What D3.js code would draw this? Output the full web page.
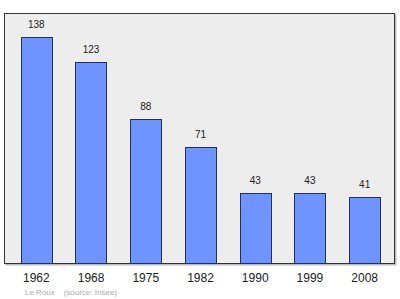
<!DOCTYPE html>
<html>
<head>
<meta charset="utf-8">
<script src="https://cdn.jsdelivr.net/npm/d3@7"></script>
<style>
  body { margin: 0; background: #fff; }
  svg { display: block; font-family: "Liberation Sans", Arial, sans-serif; }
</style>
</head>
<body>
<svg id="chart" width="400" height="299"></svg>
<script>
const years = ['1962', '1968', '1975', '1982', '1990', '1999', '2008'];
const population = [138, 123, 88, 71, 43, 43, 41];

const frame = { left: 4, top: 13, right: 395, bottom: 264 };

const svg = d3.select('#chart');

const x = d3.scaleBand()
  .domain(years)
  .range([9, 392])
  .paddingInner(0.43)
  .paddingOuter(0.215);

const y = d3.scaleLinear()
  .domain([0, 152.6])
  .range([frame.bottom, frame.top]);

// shadow + frame
svg.append('rect')
  .attr('x', frame.left + 1.5)
  .attr('y', frame.top + 1.5)
  .attr('width', frame.right - frame.left)
  .attr('height', frame.bottom - frame.top)
  .attr('fill', '#bdbdbd');

svg.append('rect')
  .attr('x', frame.left + 0.5)
  .attr('y', frame.top + 0.5)
  .attr('width', frame.right - frame.left - 1)
  .attr('height', frame.bottom - frame.top - 1)
  .attr('fill', '#ededed')
  .attr('stroke', '#333')
  .attr('stroke-width', 1);

const data = years.map((yr, i) => ({ year: yr, value: population[i] }));

svg.selectAll('rect.bar')
  .data(data)
  .enter()
  .append('rect')
  .attr('class', 'bar')
  .attr('x', d => Math.round(x(d.year)) + 0.5)
  .attr('y', d => Math.round(y(d.value)) + 0.5)
  .attr('width', Math.round(x.bandwidth()))
  .attr('height', d => frame.bottom - Math.round(y(d.value)) - 1)
  .attr('fill', '#7094ff')
  .attr('stroke', '#22305a')
  .attr('stroke-width', 1);

svg.selectAll('text.value')
  .data(data)
  .enter()
  .append('text')
  .attr('class', 'value')
  .attr('x', d => x(d.year) + x.bandwidth() / 2)
  .attr('y', d => y(d.value) - 9)
  .attr('text-anchor', 'middle')
  .attr('font-size', 10)
  .attr('fill', '#222')
  .text(d => d.value);

// year labels
const axis = d3.axisBottom(x).tickSize(0).tickPadding(0);
const g = svg.append('g')
  .attr('transform', `translate(0,${frame.bottom})`)
  .call(axis);
g.select('.domain').remove();
g.selectAll('text')
  .attr('font-size', 12)
  .attr('font-family', '"Liberation Sans", Arial, sans-serif')
  .attr('fill', '#222')
  .attr('dy', 0)
  .attr('y', 18);

svg.append('text')
  .attr('x', 25)
  .attr('y', 295)
  .attr('font-size', 8)
  .attr('fill', '#aaa')
  .text('Le Roux\u00a0\u00a0\u00a0\u00a0(source: Insee)');
</script>
</body>
</html>
